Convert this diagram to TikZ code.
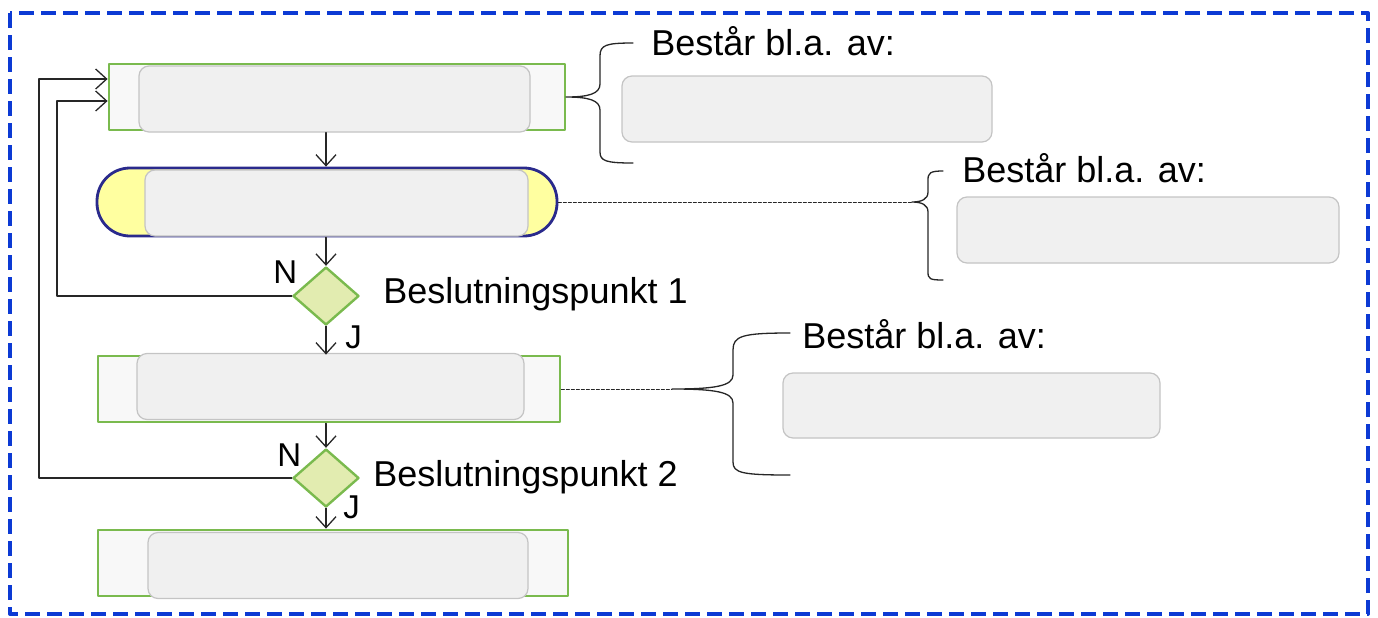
\documentclass[tikz,border=0pt]{standalone}
\usepackage{fontspec}
\setmainfont{Liberation Sans}
\usetikzlibrary{arrows.meta}
\usetikzlibrary{shapes.geometric}
\definecolor{frameblue}{RGB}{12,58,212}
\definecolor{boxgreen}{RGB}{122,186,78}
\definecolor{outerfill}{RGB}{248,248,248}
\definecolor{innerfill}{RGB}{240,240,240}
\definecolor{innerline}{RGB}{196,196,196}
\definecolor{pillline}{RGB}{42,42,140}
\definecolor{pillfill}{RGB}{255,255,160}
\definecolor{diafill}{RGB}{226,236,176}
\tikzset{
  outerbox/.style={draw=boxgreen,line width=1.4pt,fill=outerfill,minimum height=33pt,inner sep=0pt},
  innerbox/.style={draw=innerline,line width=0.6pt,fill=innerfill,rounded corners=5pt,minimum height=33pt,inner sep=0pt},
  pillbox/.style={draw=pillline,line width=1.4pt,fill=pillfill,rounded corners=16.5pt,minimum height=34pt,inner sep=0pt},
  decision/.style={diamond,draw=boxgreen,line width=1.2pt,fill=diafill,minimum width=33pt,minimum height=29pt,inner sep=0pt},
  bigtext/.style={inner sep=0pt,font=\fontsize{18}{21}\selectfont},
  yntext/.style={inner sep=0pt,font=\fontsize{16.5}{19}\selectfont},
  flow/.style={line width=0.65pt,black!85},
  brace/.style={line width=0.65pt,black!85},
  link/.style={line width=0.5pt,dash pattern=on 1.5pt off 1pt,black!85}
}
\begin{document}
\begin{tikzpicture}[line cap=round,line join=round,>={Straight Barb[length=5.5pt,width=10pt]},x=0.5pt,y=-0.5pt]
\useasboundingbox (0,0) rectangle (1378,617);
% frame
\draw[frameblue,line width=2pt,line cap=butt,dash pattern=on 7.5pt off 3.5pt] (10,13) rectangle (1368,614);
% main flow
\node[outerbox,minimum width=228pt] (box1) at (337,97) {};
\node[innerbox,minimum width=195.5pt] (in1) at (334.5,99) {};
\node[pillbox,minimum width=230pt] (pill) at (327,202) {};
\node[innerbox,minimum width=191.5pt] (in2) at (336.5,203) {};
\node[decision] (d1) at (326,296) {};
\node[outerbox,minimum width=231pt] (box2) at (329,389) {};
\node[innerbox,minimum width=193.5pt] (in3) at (330.5,386.5) {};
\node[decision] (d2) at (326,478) {};
\node[outerbox,minimum width=235pt] (box3) at (333,563) {};
\node[innerbox,minimum width=190pt] (in4) at (338,565.5) {};
% labels
\node[bigtext,anchor=base west] (dp1) at (383,303) {Beslutningspunkt 1};
\node[bigtext,anchor=base west] (dp2) at (373,486) {Beslutningspunkt 2};
\node[yntext,anchor=base west] (n1) at (273,283) {N};
\node[yntext,anchor=base west] (j1) at (345,348) {J};
\node[yntext,anchor=base west] (n2) at (277,466) {N};
\node[yntext,anchor=base west] (j2) at (343,518) {J};
% arrows
\draw[flow,->] (d1.north |- in1.south) -- (d1.north |- pill.north);
\draw[flow,->] (d1.north |- pill.south) -- (d1.north);
\draw[flow,->] (d1.south) -- (d1.south |- box2.north);
\draw[flow,->] (d2.north |- box2.south) -- (d2.north);
\draw[flow,->] (d2.south) -- (d2.south |- box3.north);
\coordinate (back1) at (57,101);
\coordinate (back2) at (39,79);
\draw[flow,->] (d1.west) -| (back1) -- (back1 -| box1.west);
\draw[flow,->] (d2.west) -| (back2) -- (back2 -| box1.west);
% side notes
\node[bigtext,anchor=base west] (t1) at (651,55) {Består bl.a. av:};
\node[innerbox,minimum width=185pt] (g1) at (807,109) {};
\node[bigtext,anchor=base west] (t2) at (962,182) {Består bl.a. av:};
\node[innerbox,minimum width=191pt] (g2) at (1148,230) {};
\node[bigtext,anchor=base west] (t3) at (802,348) {Består bl.a. av:};
\node[innerbox,minimum width=188.5pt,minimum height=32.5pt] (g3) at (971.5,405.5) {};
% braces
\coordinate (tip1) at (566,97);
\coordinate (tip2) at (912,202);
\coordinate (tip3) at (672,389);
\draw[brace] (633,43) .. controls (606,43) and (600,45) .. (600,56) -- (600,84)
  .. controls (600,94) and (588,97) .. (tip1) .. controls (588,97) and (600,100) .. (600,110)
  -- (600,152) .. controls (600,161) and (606,163) .. (633,163);
\draw[brace] (943,171) .. controls (930,171) and (928,173) .. (928,180) -- (928,192)
  .. controls (928,199) and (922,202) .. (tip2) .. controls (922,202) and (928,205) .. (928,212)
  -- (928,272) .. controls (928,279) and (930,280) .. (943,280);
\draw[brace] (790,333) .. controls (742,333) and (733,336) .. (733,350) -- (733,375)
  .. controls (733,386) and (715,389) .. (tip3) .. controls (715,389) and (733,392) .. (733,403)
  -- (733,462) .. controls (733,473) and (742,475) .. (790,475);
\draw[link] (pill.east) -- (tip2);
\draw[link] (box2.east) -- (tip3);
\end{tikzpicture}
\end{document}
